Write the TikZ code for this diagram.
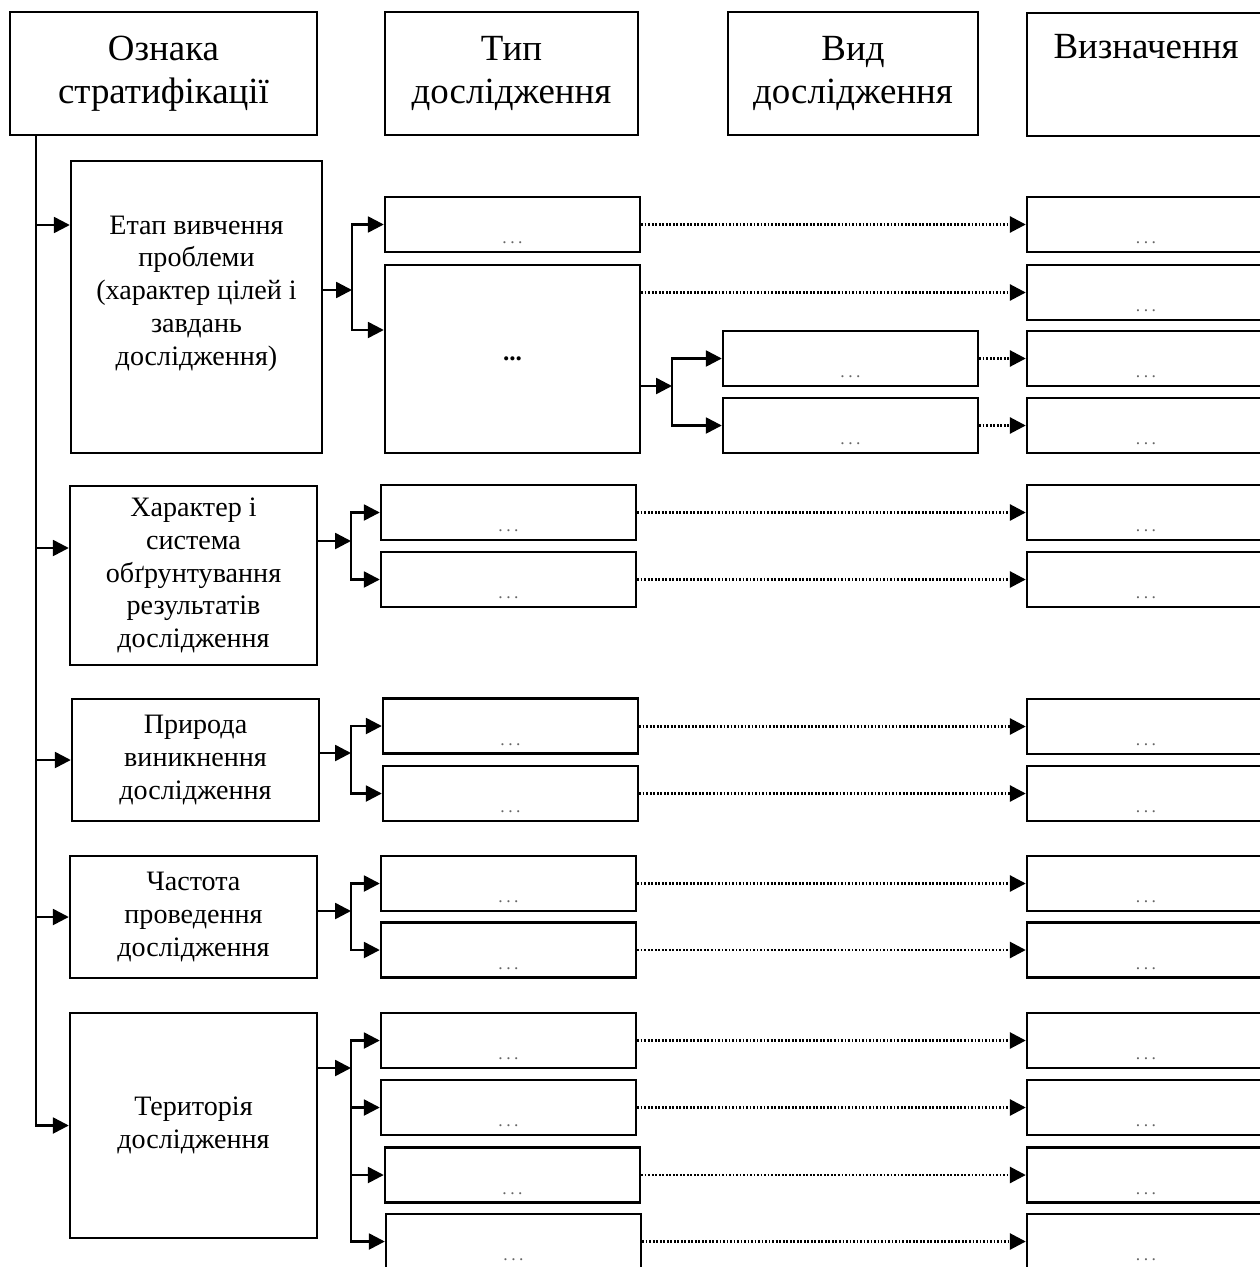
\documentclass[tikz,border=0pt]{standalone}
\usepackage{fontspec}
\setmainfont{Liberation Serif}
\usepackage{tikz}
\usetikzlibrary{arrows.meta,positioning}

\newcommand{\gapdots}{.\hspace{2pt}.\hspace{2pt}.}

\begin{document}
\begin{tikzpicture}[x=0.02cm,y=-0.02cm]
\tikzstyle{box}=[draw, line width=1.4pt, inner sep=0pt]
\tikzstyle{head}=[box, minimum height=2.46cm, align=center, font=\fontsize{21}{24.4}\selectfont]
\tikzstyle{sign}=[box, align=center, font=\fontsize{16}{18.7}\selectfont, minimum width=4.94cm]
\tikzstyle{dotlbl}=[anchor=south, inner sep=5pt, font=\normalsize, text=black!60]
\tikzstyle{cell}=[box, minimum width=5.1cm, minimum height=1.1cm, label={[dotlbl]south:\gapdots}]
\tikzstyle{defn}=[cell, minimum width=4.76cm]
\tikzstyle{arr}=[line width=1.4pt, -{Triangle[length=9pt,width=9pt]}]
\tikzstyle{dotarr}=[arr, line width=1.6pt, dash pattern=on 1pt off 1pt]
\useasboundingbox (0,0) rectangle (1260,1267);
\clip (0,0) rectangle (1260,1267);

% headings
\node[head, minimum width=6.14cm] (sign) at (163.5,73.5) {Ознака\\стратифікації};
\node[head, minimum width=5.06cm] (type) at (511.5,73.5) {Тип\\дослідження};
\node[head, minimum width=5cm] (kind) at (853,73.5) {Вид\\дослідження};
\node[head, minimum width=4.76cm] (defn) at (1146,74.5) {Визначення\\[8pt]\mbox{}};

% signs of stratification
\node[sign, minimum width=5.02cm, minimum height=5.84cm] (s1) at (196.5,307)
  {Етап вивчення\\проблеми\\(характер цілей і\\завдань\\дослідження)\\\mbox{}};
\node[sign, minimum height=3.58cm] (s2) at (193.5,575.5)
  {Характер і\\система\\обґрунтування\\результатів\\дослідження};
\node[sign, minimum height=2.44cm] (s3) at (195.5,760) {Природа\\виникнення\\дослідження};
\node[sign, minimum height=2.44cm] (s4) at (193.5,917) {Частота\\проведення\\дослідження};
\node[sign, minimum height=4.5cm] (s5) at (193.5,1125.5) {Територія\\дослідження};

% types
\node[cell] (t11) at (512.5,224.5) {};
\node[box, minimum width=5.1cm, minimum height=3.76cm, font=\Large\bfseries] (t12) at (512.5,359) {...};
\node[cell] (t21) at (508.5,512.5) {};
\node[cell] (t22) at (508.5,579.5) {};
\node[cell] (t31) at (510.5,726) {};
\node[cell] (t32) at (510.5,793.5) {};
\node[cell] (t41) at (508.5,883.5) {};
\node[cell] (t42) at (508.5,950) {};
\node[cell] (t51) at (508.5,1040.5) {};
\node[cell] (t52) at (508.5,1107.5) {};
\node[cell] (t53) at (512.5,1175) {};
\node[cell] (t54) at (513.5,1241.5) {};

% kinds
\node[cell] (k11) at (850.5,358.5) {};
\node[cell] (k12) at (850.5,425.5) {};

% definitions
\foreach \y [count=\i] in {224.5,292.5,358.5,425.5,512.5,579.5,726.5,793.5,883.5,950,1040.5,1107.5,1175,1241.5}
  \node[defn] (d\i) at (1146,\y) {};

% trunk
\coordinate (top) at ([xshift=0.54cm]sign.south west);
\coordinate (in1) at (37,225);
\coordinate (in2) at (37,548);
\draw[arr] (top) |- (s5.west);
\draw[arr] (in1) -- (in1 -| s1.west);
\draw[arr] (in2) -- (in2 -| s2.west);
\draw[arr] (top |- s3) -- (s3.west);
\draw[arr] (top |- s4) -- (s4.west);

% branches
\coordinate (j1) at (352,290);
\coordinate (k1) at (352,330);
\draw[arr] (j1 -| s1.east) -- (j1);
\draw[arr] (j1) |- (t11.west);
\draw[arr] (j1) -- (k1) -- (k1 -| t12.west);

\coordinate (j6) at (672,386);
\draw[arr] (j6 -| t12.east) -- (j6);
\draw[arr] (j6) |- (k11.west);
\draw[arr] (j6) |- (k12.west);

\foreach \r/\y in {2/541,3/753,4/911} {
  \coordinate (j\r) at (351,\y);
  \draw[arr] (j\r -| s\r.east) -- (j\r);
  \draw[arr] (j\r) |- (t\r1.west);
  \draw[arr] (j\r) |- (t\r2.west);
}

\coordinate (j5) at (351,1068);
\draw[arr] (j5 -| s5.east) -- (j5);
\foreach \k in {1,...,4}
  \draw[arr] (j5) |- (t5\k.west);

% dotted links
\foreach \a/\b in {t11/d1,t12/d2,k11/d3,k12/d4,t21/d5,t22/d6,t31/d7,t32/d8,t41/d9,t42/d10,t51/d11,t52/d12,t53/d13,t54/d14}
  \draw[dotarr] (\a.east |- \b) -- (\b.west);
\end{tikzpicture}
\end{document}
